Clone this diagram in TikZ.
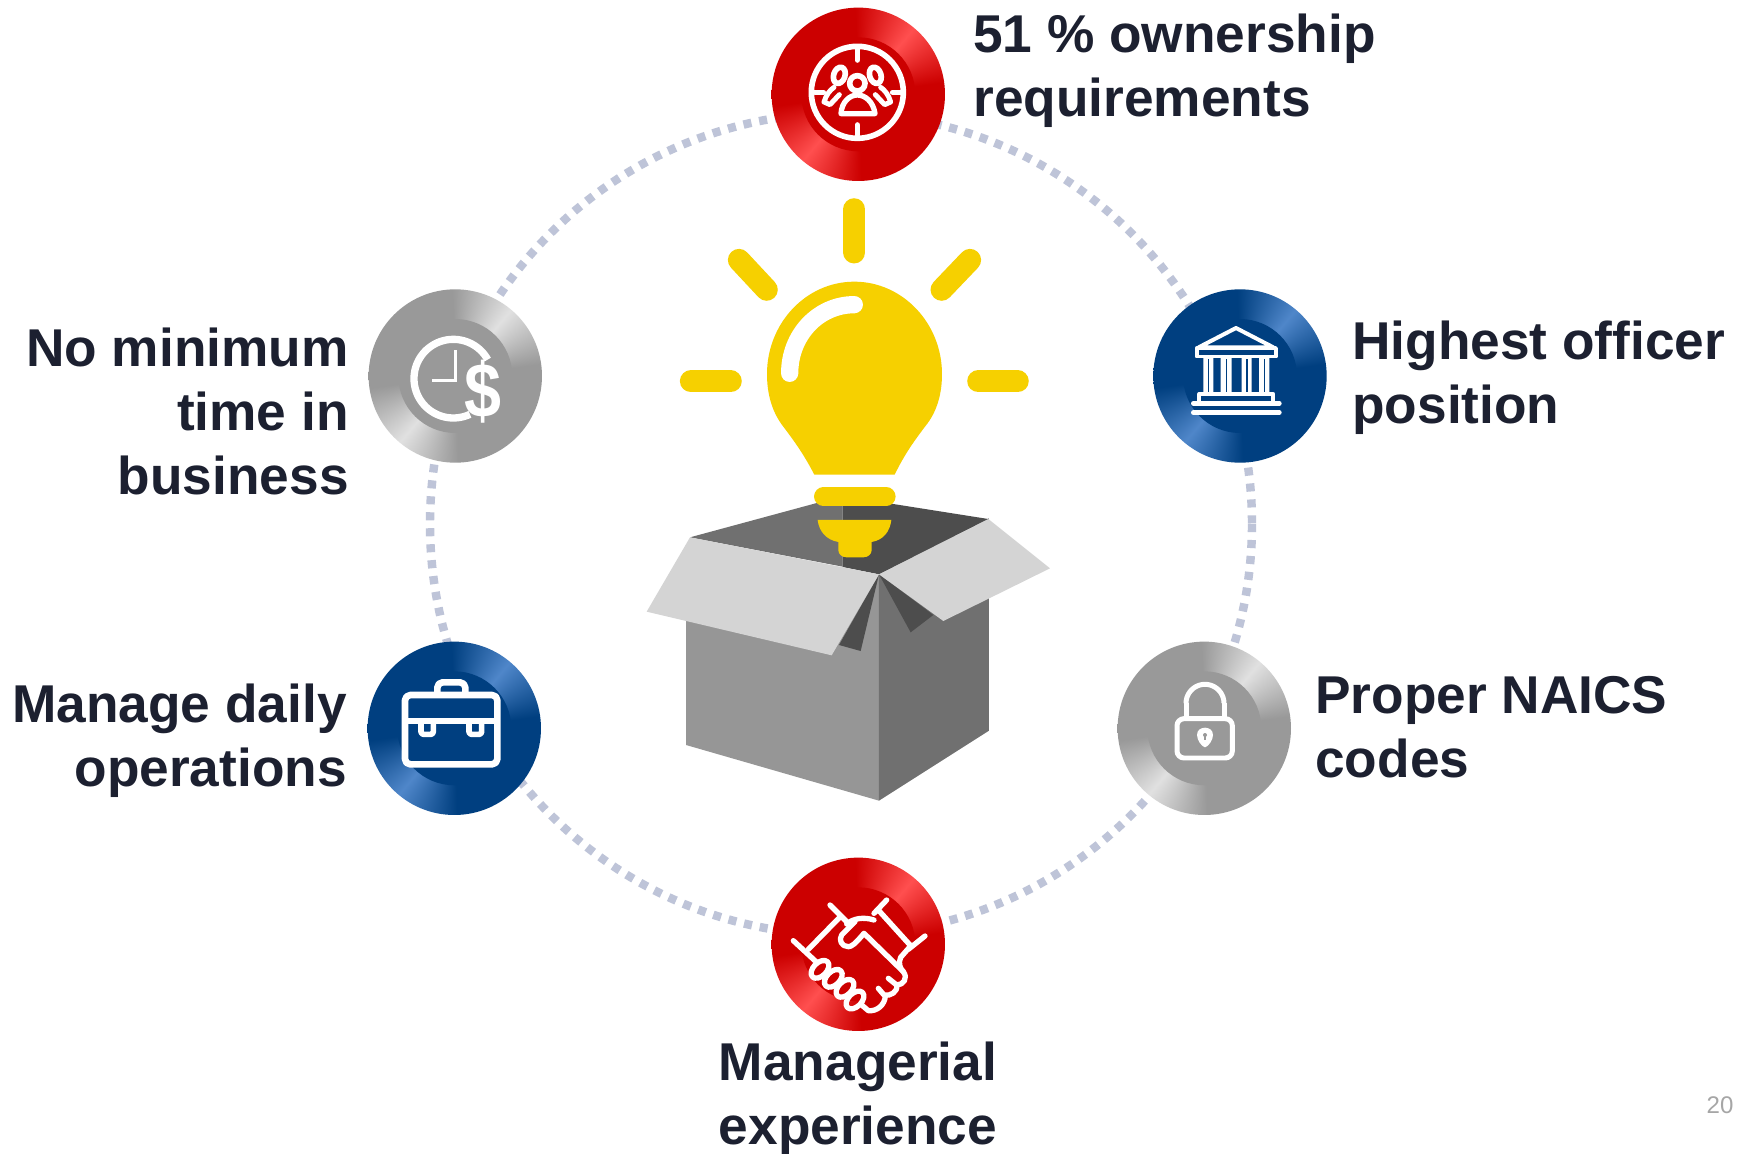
\documentclass[tikz,border=0pt]{standalone}
\usepackage{fontspec}
\setmainfont{Liberation Sans}
\definecolor{ink}{HTML}{1C2030}
\definecolor{ringc}{HTML}{BEC4D8}
\definecolor{bulbc}{HTML}{F6D000}
\definecolor{redb}{HTML}{CC0000}
\definecolor{blueb}{HTML}{003F80}
\definecolor{grayb}{HTML}{999999}
\definecolor{faceL}{HTML}{969696}
\definecolor{faceR}{HTML}{707070}
\definecolor{faceD}{HTML}{4D4D4D}
\definecolor{flap}{HTML}{D4D4D4}
\definecolor{pagenum}{HTML}{A6A6A6}
% ring shadings: x y -> r g b, two highlights at 50 and 230 degrees
\pgfdeclarefunctionalshading{ringred}{\pgfpointorigin}{\pgfpoint{100bp}{100bp}}{}{
  50 sub exch 50 sub atan
  dup 180 ge {180 sub} if
  50 sub abs 42 div 1 exch sub dup 0 lt {pop 0} if
  dup 0.2 mul 0.8 add exch dup 0.31 mul exch 0.31 mul
}
\pgfdeclarefunctionalshading{ringblue}{\pgfpointorigin}{\pgfpoint{100bp}{100bp}}{}{
  50 sub exch 50 sub atan
  dup 180 ge {180 sub} if
  50 sub abs 42 div 1 exch sub dup 0 lt {pop 0} if
  dup 0.31 mul exch dup 0.28 mul 0.247 add exch 0.29 mul 0.5 add
}
\pgfdeclarefunctionalshading{ringgray}{\pgfpointorigin}{\pgfpoint{100bp}{100bp}}{}{
  50 sub exch 50 sub atan
  dup 180 ge {180 sub} if
  50 sub abs 42 div 1 exch sub dup 0 lt {pop 0} if
  0.28 mul 0.6 add dup dup
}
\tikzset{
  disc/.style={circle,inner sep=0pt,minimum size=3.468cm,shade,shading=#1},
  hub/.style={circle,inner sep=0pt,minimum size=2.28cm,fill=#1},
  ringline/.style={draw=ringc,line width=4.8pt,dash pattern=on 4.6pt off 4.5pt},
  zoomed/.style={x=0.0066667cm,y=-0.0066667cm},
  label/.style={text=ink,inner sep=0pt,font=\fontsize{30.3}{36.3}\selectfont\bfseries},
  ico/.style={draw=white,line width=#1*0.189pt,line cap=round,line join=round},
  ray/.style={draw=bulbc,line width=67*0.189pt,line cap=round},
}
\begin{document}
\begin{tikzpicture}[x=0.02cm,y=-0.02cm]
\useasboundingbox (0,0) rectangle (1744,1153);
\fill[white] (0,0) rectangle (1744,1153);
\draw[ringline] (841,524) circle [radius=411];
% discs
\node[disc=ringred]  (d1) at (858.3,94.3) {};  \node[hub=redb]  (h1) at (d1) {};
\node[disc=ringblue] (d2) at (1240,376) {};    \node[hub=blueb] (h2) at (d2) {};
\node[disc=ringgray] (d3) at (1204.3,728.3) {};\node[hub=grayb] (h3) at (d3) {};
\node[disc=ringred]  (d4) at (858.3,944.3) {}; \node[hub=redb]  (h4) at (d4) {};
\node[disc=ringblue] (d5) at (454.3,728.3) {}; \node[hub=blueb] (h5) at (d5) {};
\node[disc=ringgray] (d6) at (455.3,376) {};   \node[hub=grayb] (h6) at (d6) {};
% box
\begin{scope}[shift={(640,470)},zoomed]
\fill[faceL] (138,440)--(717,313)--(717,992)--(138,825)--cycle;
\fill[faceR] (717,313)--(1047,145)--(1047,782)--(717,992)--cycle;
\fill[faceR] (150,202)--(608,78)--(608,290)--cycle;
\fill[faceD] (608,78)--(1045,147)--(717,313)--(608,291)--cycle;
\fill[faceD] (717,313)--(662,543)--(597,525)--cycle;
\fill[faceD] (717,313)--(812,487)--(880,435)--cycle;
\fill[flap] (150,202)--(717,313)--(575,556)--(20,425)--cycle;
\fill[flap] (717,313)--(1045,147)--(1230,295)--(910,453)--cycle;
\end{scope}
% bulb
\begin{scope}[shift={(640,190)},zoomed]
\draw[ray] (643,58)--(643,187);
\draw[ray] (297,210)--(380,299);
\draw[ray] (990,210)--(905,299);
\draw[ray] (153,574)--(272,574);
\draw[ray] (1015,574)--(1133,574);
\fill[bulbc] (523,854) .. controls (490,790) and (460,750) .. (430,710) .. controls (395,665) and (381,610) .. (381,552) .. controls (381,400) and (498,275) .. (643,275) .. controls (788,275) and (906,400) .. (906,552) .. controls (906,610) and (892,665) .. (855,710) .. controls (825,750) and (795,790) .. (764,854) -- cycle;
\draw[white,line width=52*0.189pt,line cap=round] (449,550) .. controls (449,435) and (535,344) .. (643,344);
\draw[bulbc,line width=56*0.189pt,line cap=round] (550,920)--(739,920);
\fill[bulbc] (533,990) -- (754,990) .. controls (750,1025) and (730,1050) .. (695,1056) -- (695,1080) .. controls (695,1092) and (685,1102) .. (670,1102) -- (620,1102) .. controls (605,1102) and (595,1092) .. (595,1080) -- (595,1056) .. controls (560,1050) and (537,1025) .. (533,990) -- cycle;
\end{scope}
% icon 1: people in a target
\begin{scope}[shift={(740,0)},zoomed]
\draw[ico=17] (352,277) circle [radius=138];
\draw[ico=17] (352,147)--(352,180) (352,375)--(352,405) (225,277)--(250,277) (458,277)--(482,277);
\draw[ico=17,rotate around={-18:(298,226)}] (298,226) ellipse [x radius=17,y radius=25];
\draw[ico=17,rotate around={18:(406,226)}] (406,226) ellipse [x radius=17,y radius=25];
\draw[ico=15] (252,306) .. controls (258,285) and (270,270) .. (282,262) (298,284) -- (270,314) -- (252,306);
\draw[ico=15] (452,306) .. controls (446,285) and (434,270) .. (422,262) (406,284) -- (434,314) -- (452,306);
\fill[redb] (352,250) circle [radius=32] (303,341) .. controls (305,305) and (330,285) .. (352,285) .. controls (375,285) and (400,305) .. (405,341) -- cycle;
\draw[ico=17] (352,250) circle [radius=23];
\draw[ico=16] (303,341) .. controls (305,305) and (330,285) .. (352,285) .. controls (375,285) and (400,305) .. (405,341) -- cycle;
\end{scope}
% icon 2: bank
\begin{scope}[shift={(1130,270)},zoomed]
\draw[ico=12] (318,174)--(206,232)--(430,232)--cycle;
\draw[ico=11] (200,234) rectangle (438,260);
\fill[white] (220,260) rectangle (250,370) (272,260) rectangle (305,370) (335,260) rectangle (365,370) (387,260) rectangle (418,370);
\draw[blueb,line width=5*0.189pt] (235,268)--(235,368) (289,268)--(289,368) (350,268)--(350,368) (403,268)--(403,368);
\draw[ico=12] (208,372) rectangle (430,398);
\draw[ico=14] (190,400)--(448,400) (190,428)--(448,428);
\end{scope}
% icon 3: clock and dollar
\begin{scope}[shift={(350,270)},zoomed]
\draw[white,line width=22*0.189pt] plot[domain=-29:-295,samples=70] ({310+118*cos(\x)},{326+118*sin(\x)});
\draw[white,line width=10*0.189pt] (316,240)--(316,331)--(247,331);
\node[text=white,inner sep=0pt,xscale=0.86,font=\fontsize{44}{44}\selectfont\bfseries] (dollar) at (400,365) {\$};
\end{scope}
% icon 4: briefcase
\begin{scope}[shift={(350,630)},zoomed]
\draw[ico=20,rounded corners=3pt] (165,195) rectangle (442,403);
\draw[white,line width=20*0.189pt] (165,273)--(442,273);
\draw[ico=20,rounded corners=3pt,line cap=butt] (262,190)--(262,157)--(346,157)--(346,190);
\draw[ico=17,rounded corners=1.5pt,line cap=butt] (213,280)--(213,313)--(250,313)--(250,280);
\draw[ico=17,rounded corners=1.5pt,line cap=butt] (357,280)--(357,313)--(395,313)--(395,280);
\end{scope}
% icon 5: lock
\begin{scope}[shift={(1100,630)},zoomed]
\draw[ico=15,rounded corners=4pt] (231,266) rectangle (397,384);
\draw[white,line width=15*0.189pt] plot[domain=180:360,samples=40] ({315+57*cos(\x)},{220+57*sin(\x)});
\draw[white,line width=15*0.189pt] (258,220)--(258,262) (372,220)--(372,262);
\fill[white] (291,315) .. controls (291,300) and (303,293) .. (315,293) .. controls (327,293) and (339,300) .. (339,315) .. controls (339,330) and (325,350) .. (315,352) .. controls (305,350) and (291,330) .. (291,315) -- cycle;
\fill[grayb] (315,315) circle [radius=6];
\draw[grayb,line width=4*0.189pt] (315,315)--(315,331);
\end{scope}
% icon 6: handshake
\begin{scope}[shift={(740,850)},zoomed]
\draw[ico=16] (160,272)--(228,335) (270,165)--(320,215) (205,298)--(298,203);
\draw[ico=16] (555,258)--(505,298) (440,150)--(402,190) (415,180)--(510,285);
\draw[ico=16] (320,222) .. controls (340,205) and (370,200) .. (402,210);
\draw[ico=16] (345,215) -- (305,255) .. controls (295,270) and (305,290) .. (325,290) .. controls (335,290) and (345,282) .. (372,250) -- (490,365) .. controls (505,385) and (490,405) .. (470,405) -- (445,385);
\draw[ico=16] (510,290) -- (482,322) .. controls (474,340) and (480,355) .. (490,365);
\draw[ico=16] (470,405) .. controls (475,425) and (450,440) .. (432,435) -- (415,415);
\draw[ico=16] (436,437) .. controls (435,465) and (410,485) .. (385,482) -- (365,465);
\foreach \cx/\cy in {240/358,280/385,315/415,345/450}
  \draw[ico=16,rotate around={45:(\cx,\cy)}] (\cx,\cy) ellipse [x radius=32,y radius=20];
\end{scope}
% labels
\node[label,anchor=base west,align=left] (t1) at (973,116.5) {51 \% ownership\\requirements};
\node[label,anchor=base west,align=left] (t2) at (1352,423) {Highest officer\\position};
\node[label,anchor=base west,align=left] (t3) at (1315,777.5) {Proper NAICS\\codes};
\node[label,anchor=base,align=center] (t4) at (858,1144.5) {Managerial\\experience};
\node[label,anchor=base east,align=right] (t5) at (347,786) {Manage daily\\operations};
\node[label,anchor=base east,align=right] (t6) at (349,494) {No minimum\\time in\\business};
\node[text=pagenum,inner sep=0pt,font=\fontsize{13.7}{16}\selectfont] (pg) at (1720,1105) {20};
\end{tikzpicture}
\end{document}
